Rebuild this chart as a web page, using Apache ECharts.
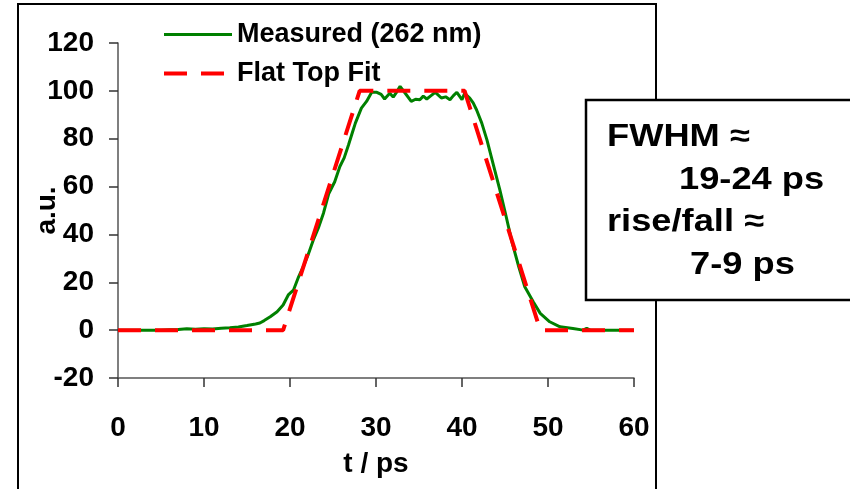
<!DOCTYPE html>
<html>
<head>
<meta charset="utf-8">
<script src="https://cdn.jsdelivr.net/npm/echarts@6/dist/echarts.min.js"></script>
<style>
  html, body { margin: 0; padding: 0; background: #fff; }
  #chart { width: 850px; height: 489px; }
</style>
</head>
<body>
<div id="chart"></div>
<script>
// measured pulse profile (t in ps, intensity in a.u.)
const measuredT = [0, 1, 2, 3, 4, 5, 6, 7, 8, 9, 10, 11, 12, 13, 14, 15, 16, 16.5, 17, 17.7,
  18.5, 19.2, 19.8, 20.4, 21.0, 21.6, 22.1, 22.7, 23.3, 23.9, 24.5, 25.2, 25.8, 26.3, 26.8,
  27.2, 27.6, 28.3, 28.9, 29.5, 30.1, 30.6, 31.0, 31.6, 32.0, 32.4, 32.8, 33.4, 34.1, 34.6,
  35.1, 35.5, 35.9, 36.4, 36.9, 37.6, 38.1, 38.6, 39.0, 39.4, 40.0, 40.3, 40.9, 41.3, 41.7,
  42.3, 42.9, 43.4, 44.0, 44.4, 45.1, 45.8, 46.6, 47.3, 48.3, 49.1, 50.2, 51.4, 52.9, 54.1,
  54.5, 54.9, 55.6, 57, 58, 59, 60];
const measuredV = [0, 0, 0, 0, 0, 0, 0.2, 0.3, 0.6, 0.4, 0.6, 0.5, 0.8, 1, 1.3, 1.9, 2.6, 3, 4, 5.6,
  7.7, 10.5, 14.7, 16.7, 22.3, 27, 31.4, 37.6, 42.7, 49, 57, 62, 68.4, 72, 77.4,
  82, 86.5, 92.8, 95.6, 99.4, 99.4, 98.5, 96.6, 99, 97.4, 99.5, 101.9, 99, 95.6, 96.5,
  96.3, 97.8, 96.6, 98, 99.4, 97, 97.5, 96.3, 98, 99.4, 96.3, 99, 97, 95, 92,
  86.5, 79.5, 72.5, 64.2, 58.6, 48, 37, 26.5, 18.1, 11.8, 7, 3.5, 1.4, 0.7, 0,
  0.8, 0, 0, 0, 0, 0, 0];

// flat top (trapezoid) fit
const fitT = [0, 19.2, 28.1, 40.3, 49.1, 60];
const fitV = [0, 0, 100, 100, 0, 0];

const xTicks = [0, 60, 10];      // min, max, interval
const yTicks = [-20, 120, 20];

const boxLines = ['FWHM \u2248', '19-24 ps', 'rise/fall \u2248', '7-9 ps'];

const FONT = "'Liberation Sans', Arial, sans-serif";
const pairs = (xs, ys) => xs.map((x, i) => [x, ys[i]]);

const chart = echarts.init(document.getElementById('chart'), null, { renderer: 'canvas' });

const labelStyle = { fontFamily: FONT, fontWeight: 'bold', fontSize: 28, color: '#000' };

const greenLine = { color: '#008000', width: 3 };
const redLine = { color: '#ff0000', width: 4, type: [23, 14] };

// stretched bold text for the annotation box
function boxText(str, x, y) {
  return {
    type: 'text', x: x, y: y, scaleX: 1.17,
    style: { text: str, font: 'bold 31px ' + FONT, fill: '#000', verticalAlign: 'middle' }
  };
}

chart.setOption({
  animation: false,
  backgroundColor: '#fff',
  grid: { left: 118, right: 216, top: 43, bottom: 111, containLabel: false },
  legend: {
    orient: 'vertical',
    left: 157, top: 16,
    itemWidth: 68, itemHeight: 14, itemGap: 12,
    itemStyle: { opacity: 0 },
    lineStyle: { width: 3.5 },
    textStyle: { fontFamily: FONT, fontWeight: 'bold', fontSize: 27, color: '#000' },
    data: [
      { name: 'Measured (262 nm)', lineStyle: greenLine },
      { name: 'Flat Top Fit', lineStyle: redLine }
    ]
  },
  xAxis: {
    type: 'value', min: xTicks[0], max: xTicks[1], interval: xTicks[2],
    axisLine: { onZero: false, lineStyle: { color: '#555', width: 1.5 } },
    axisTick: { inside: false, length: 9, lineStyle: { color: '#333', width: 1.5 } },
    axisLabel: Object.assign({ margin: 36 }, labelStyle),
    splitLine: { show: false },
    name: 't / ps', nameLocation: 'middle', nameGap: 72,
    nameTextStyle: labelStyle
  },
  yAxis: {
    type: 'value', min: yTicks[0], max: yTicks[1], interval: yTicks[2],
    axisLine: { show: true, lineStyle: { color: '#555', width: 1.5 } },
    axisTick: { show: true, inside: false, length: 9, lineStyle: { color: '#333', width: 1.5 } },
    axisLabel: Object.assign({ margin: 24 }, labelStyle),
    splitLine: { show: false },
    name: 'a.u.', nameLocation: 'middle', nameGap: 57, nameRotate: 90,
    nameMoveOverlap: false,
    nameTextStyle: labelStyle
  },
  series: [
    {
      name: 'Measured (262 nm)', type: 'line', symbol: 'none', z: 3,
      lineStyle: greenLine,
      itemStyle: { color: '#008000' },
      data: pairs(measuredT, measuredV)
    },
    {
      name: 'Flat Top Fit', type: 'line', symbol: 'none', z: 4,
      lineStyle: redLine,
      itemStyle: { color: '#ff0000' },
      data: pairs(fitT, fitV)
    }
  ],
  graphic: [
    {
      type: 'rect', z: 0, silent: true,
      shape: { x: 18, y: 4, width: 638, height: 520 },
      style: { fill: 'none', stroke: '#000', lineWidth: 2 }
    },
    {
      type: 'group', z: 100,
      children: [
        {
          type: 'rect',
          shape: { x: 586, y: 100, width: 280, height: 200 },
          style: { fill: '#fff', stroke: '#000', lineWidth: 2.5 }
        },
        boxText(boxLines[0], 607, 137),
        boxText(boxLines[1], 679, 180),
        boxText(boxLines[2], 607, 222),
        boxText(boxLines[3], 690, 265)
      ]
    }
  ]
});
</script>
</body>
</html>
